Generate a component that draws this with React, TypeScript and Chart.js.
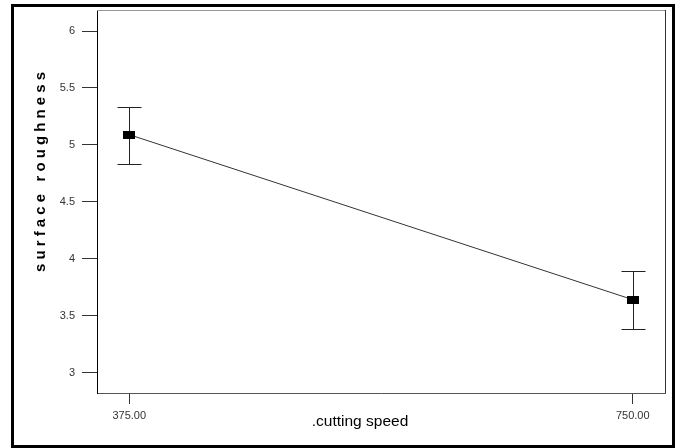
import React, { useEffect, useRef } from "react";
import { Chart, registerables } from "chart.js";

Chart.register(...registerables);

// ---- data ----
const speeds = [375, 750];
const roughnessMean = [5.09, 3.64];
const roughnessUpper = [5.335, 3.89];
const roughnessLower = [4.828, 3.38];
const yTicks = [3, 3.5, 4, 4.5, 5, 5.5, 6];
const yTickLabels = ["3", "3.5", "4", "4.5", "5", "5.5", "6"];
const xTicks = [375, 750];
const xTickLabels = ["375.00", "750.00"];
const xTitle = ".cutting speed";
const yTitle = "surface roughness";

const FONT = "'Liberation Sans', Arial, Helvetica, sans-serif";

function drawSpaced(ctx: CanvasRenderingContext2D, text: string, cx: number, cy: number, spacing: number) {
  const widths = Array.from(text).map((ch) => ctx.measureText(ch).width);
  const total = widths.reduce((a, b) => a + b, 0) + spacing * (text.length - 1);
  let x = cx - total / 2;
  Array.from(text).forEach((ch, i) => {
    ctx.fillText(ch, x, cy);
    x += widths[i] + spacing;
  });
}

const decorPlugin = {
  id: "decor",
  beforeDatasetsDraw(chart: any) {
    const ctx = chart.ctx as CanvasRenderingContext2D;
    const xs = chart.scales.x;
    const ys = chart.scales.y;
    ctx.save();
    ctx.strokeStyle = "#222";
    ctx.lineWidth = 1;
    speeds.forEach((s, i) => {
      const px = Math.round(xs.getPixelForValue(s)) + 0.5;
      const top = Math.round(ys.getPixelForValue(roughnessUpper[i])) + 0.5;
      const bot = Math.round(ys.getPixelForValue(roughnessLower[i])) + 0.5;
      ctx.beginPath();
      ctx.moveTo(px, top);
      ctx.lineTo(px, bot);
      ctx.moveTo(px - 12, top);
      ctx.lineTo(px + 12, top);
      ctx.moveTo(px - 12, bot);
      ctx.lineTo(px + 12, bot);
      ctx.stroke();
    });
    ctx.restore();
  },
  afterDraw(chart: any) {
    const ctx = chart.ctx as CanvasRenderingContext2D;
    const a = chart.chartArea;
    ctx.save();
    // plot box top & right
    ctx.lineWidth = 1;
    ctx.strokeStyle = "#999";
    ctx.beginPath();
    ctx.moveTo(a.left, Math.round(a.top) + 0.5);
    ctx.lineTo(a.right, Math.round(a.top) + 0.5);
    ctx.stroke();
    ctx.strokeStyle = "#333";
    ctx.beginPath();
    ctx.moveTo(Math.round(a.right) + 0.5, a.top);
    ctx.lineTo(Math.round(a.right) + 0.5, a.bottom);
    ctx.stroke();
    // outer frame
    ctx.lineWidth = 3;
    ctx.strokeStyle = "#000";
    ctx.strokeRect(12.5, 5.5, 661, 441);
    // x title
    ctx.fillStyle = "#000";
    ctx.font = `15.5px ${FONT}`;
    ctx.textAlign = "center";
    ctx.textBaseline = "alphabetic";
    ctx.fillText(xTitle, 360, 426);
    // y title (rotated, letter spaced)
    ctx.translate(45, 172);
    ctx.rotate(-Math.PI / 2);
    ctx.font = `bold 15px ${FONT}`;
    ctx.textAlign = "left";
    const targetLen = 200;
    const raw = Array.from(yTitle).reduce((s, ch) => s + ctx.measureText(ch).width, 0);
    const spacing = (targetLen - raw) / (yTitle.length - 1);
    drawSpaced(ctx, yTitle, 0, 0, spacing);
    ctx.restore();
  },
};

export default function App() {
  const ref = useRef<HTMLCanvasElement | null>(null);

  useEffect(() => {
    document.body.style.margin = "0";
    const canvas = ref.current;
    if (!canvas) return;

    const marker = document.createElement("canvas");
    marker.width = 12;
    marker.height = 8;
    const mctx = marker.getContext("2d")!;
    mctx.fillStyle = "#000";
    mctx.fillRect(0, 0, 12, 8);

    const chart = new Chart(canvas, {
      type: "line",
      data: {
        datasets: [
          {
            data: speeds.map((x, i) => ({ x, y: roughnessMean[i] })),
            borderColor: "#333",
            borderWidth: 1,
            pointStyle: marker as any,
            pointRadius: 6,
            tension: 0,
          },
        ],
      },
      options: {
        animation: false,
        responsive: false,
        events: [],
        layout: { padding: { left: 0, top: 10, right: 12, bottom: 0 } },
        plugins: { legend: { display: false }, tooltip: { enabled: false } },
        scales: {
          x: {
            type: "linear",
            min: 351,
            max: 774,
            afterFit: (s: any) => {
              s.height = 55;
              s.paddingLeft = 0;
              s.paddingRight = 0;
            },
            afterBuildTicks: (s: any) => {
              s.ticks = xTicks.map((v) => ({ value: v }));
            },
            grid: { drawOnChartArea: false, drawTicks: true, tickLength: 11, color: "#333" },
            border: { display: true, color: "#555" },
            ticks: {
              padding: 5,
              color: "#333",
              font: { family: FONT, size: 11 },
              maxRotation: 0,
              callback: (_v: any, i: number) => xTickLabels[i],
            },
          },
          y: {
            type: "linear",
            min: 2.82,
            max: 6.185,
            afterFit: (s: any) => {
              s.width = 97;
              s.paddingTop = 0;
              s.paddingBottom = 0;
            },
            afterBuildTicks: (s: any) => {
              s.ticks = yTicks.map((v) => ({ value: v }));
            },
            grid: { drawOnChartArea: false, drawTicks: true, tickLength: 15, color: "#333" },
            border: { display: true, color: "#000" },
            ticks: {
              padding: 7,
              color: "#333",
              font: { family: FONT, size: 11 },
              callback: (_v: any, i: number) => yTickLabels[i],
            },
          },
        },
      },
      plugins: [decorPlugin],
    });
    return () => chart.destroy();
  }, []);

  return (
    <div style={{ width: 677, height: 448, background: "#fff" }}>
      <canvas ref={ref} width={677} height={448} style={{ display: "block" }} />
    </div>
  );
}
